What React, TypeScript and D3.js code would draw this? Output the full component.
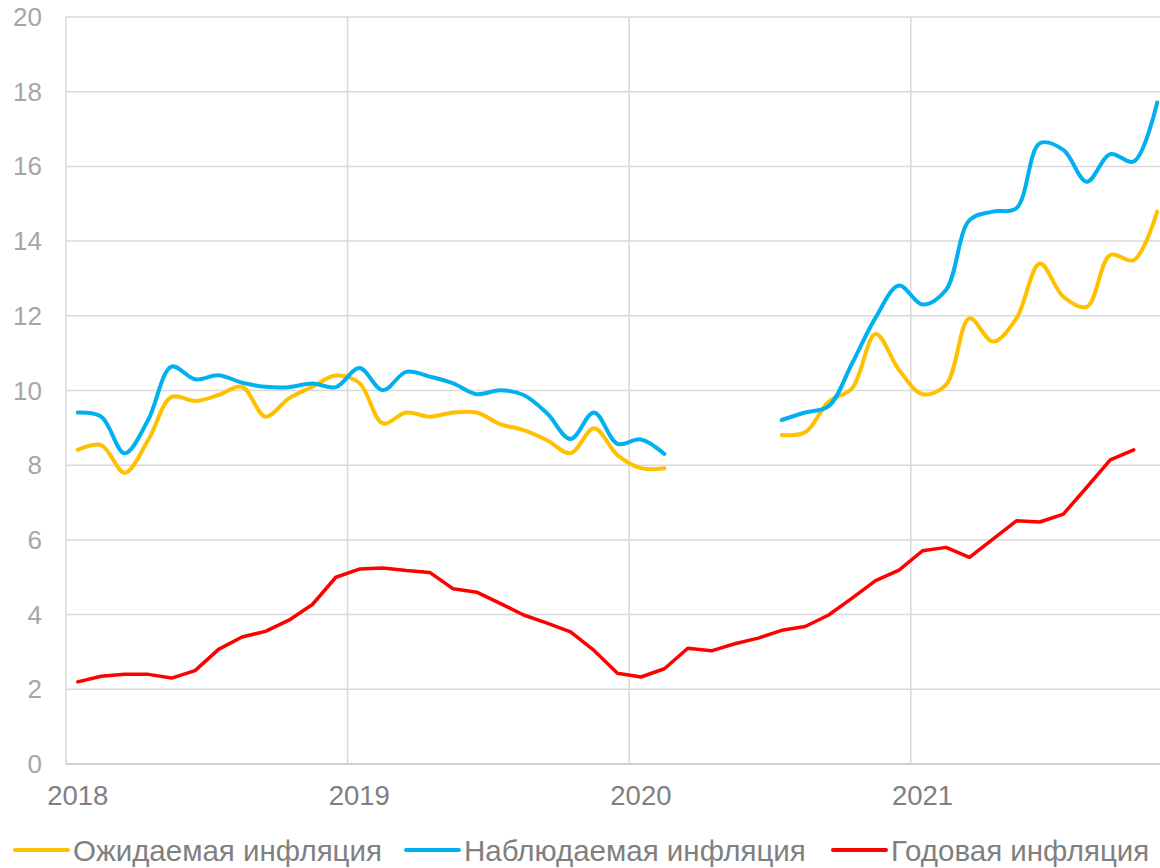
import * as d3 from "d3";

// monthly series, Jan 2018 .. Nov 2021
const months: Date[] = d3.timeMonths(new Date(2018, 0, 1), new Date(2021, 11, 1));

const expected: (number | null)[] = [
  8.41, 8.54, 7.8, 8.67, 9.83, 9.72, 9.88, 10.1, 9.3, 9.79, 10.1, 10.4,
  10.2, 9.12, 9.41, 9.3, 9.41, 9.41, 9.1, 8.94, 8.67, 8.32, 8.99, 8.27,
  7.92, 7.92, null, null, null, null, 8.81, 8.88, 9.7, 10.06, 11.51, 10.55,
  9.9, 10.15, 11.93, 11.31, 11.93, 13.4, 12.51, 12.24, 13.63, 13.49, 14.79,
];

const observed: (number | null)[] = [
  9.41, 9.3, 8.32, 9.21, 10.64, 10.3, 10.41, 10.21, 10.1, 10.09, 10.19, 10.09,
  10.6, 10.01, 10.5, 10.37, 10.19, 9.9, 10.01, 9.88, 9.39, 8.7, 9.41, 8.57,
  8.69, 8.3, null, null, null, null, 9.21, 9.41, 9.58, 10.73, 11.95, 12.81,
  12.3, 12.69, 14.56, 14.79, 14.88, 16.62, 16.44, 15.59, 16.33, 16.13, 17.71,
];

const annual: (number | null)[] = [
  2.2, 2.35, 2.4, 2.4, 2.3, 2.5, 3.07, 3.4, 3.55, 3.85, 4.27, 5.0,
  5.22, 5.25, 5.18, 5.13, 4.69, 4.6, 4.3, 3.99, 3.77, 3.54, 3.04, 2.43,
  2.33, 2.55, 3.1, 3.03, 3.22, 3.37, 3.58, 3.68, 3.99, 4.44, 4.91, 5.19,
  5.71, 5.8, 5.53, 6.02, 6.51, 6.48, 6.69, 7.41, 8.14, 8.41, null,
];

const yTicks = [0, 2, 4, 6, 8, 10, 12, 14, 16, 18, 20];
const yearTicks = [2018, 2019, 2020, 2021];

const seriesNames = ["Ожидаемая инфляция", "Наблюдаемая инфляция", "Годовая инфляция"];
const seriesColors = ["#FFC000", "#00B0F0", "#FF0000"];

const W = 1160;
const H = 868;
const left = 66;
const monthW = 281.6 / 12;
const top = 17;
const bottom = 764;
const font = "'Liberation Sans', Arial, sans-serif";

export default function App() {
  const x = d3
    .scaleBand<number>()
    .domain(months.map((_, i) => i))
    .range([left, left + months.length * monthW])
    .paddingInner(0)
    .paddingOuter(0);
  const y = d3.scaleLinear().domain([0, 20]).range([bottom, top]);
  const cx = (i: number) => (x(i) as number) + x.bandwidth() / 2;
  const yearX = (yr: number) => x(months.findIndex((m) => m.getFullYear() === yr)) as number;

  const smooth = d3
    .line<number | null>()
    .defined((d) => d != null)
    .x((_, i) => cx(i))
    .y((d) => y(d as number))
    .curve(d3.curveCatmullRom.alpha(0.5));
  const straight = d3
    .line<number | null>()
    .defined((d) => d != null)
    .x((_, i) => cx(i))
    .y((d) => y(d as number));

  const legendX = [15, 406, 833];

  return (
    <svg
      width={W}
      height={H}
      style={{ position: "absolute", left: 0, top: 0, background: "#fff" }}
      fontFamily={font}
    >
      {/* horizontal grid */}
      {yTicks.map((t) => (
        <line
          key={"h" + t}
          x1={left}
          x2={W}
          y1={y(t)}
          y2={y(t)}
          stroke={t === 0 ? "#bfbfbf" : "#d9d9d9"}
          strokeWidth={1.5}
        />
      ))}
      {/* vertical grid at years */}
      {yearTicks.map((yr) => (
        <line
          key={"v" + yr}
          x1={yearX(yr)}
          x2={yearX(yr)}
          y1={top}
          y2={bottom}
          stroke="#d9d9d9"
          strokeWidth={1.5}
        />
      ))}
      {/* y labels */}
      {yTicks.map((t) => (
        <text
          key={"yl" + t}
          x={42}
          y={y(t)}
          textAnchor="end"
          dominantBaseline="central"
          fontSize={26}
          fill="#a6a6a6"
        >
          {t}
        </text>
      ))}
      {/* x labels */}
      {yearTicks.map((yr) => (
        <text
          key={"xl" + yr}
          x={yearX(yr) + x.bandwidth() / 2}
          y={805}
          textAnchor="middle"
          fontSize={27.5}
          fill="#808080"
        >
          {yr}
        </text>
      ))}
      {/* series */}
      <path d={smooth(expected) ?? ""} fill="none" stroke={seriesColors[0]} strokeWidth={4} strokeLinecap="round" />
      <path d={smooth(observed) ?? ""} fill="none" stroke={seriesColors[1]} strokeWidth={4} strokeLinecap="round" />
      <path
        d={straight(annual) ?? ""}
        fill="none"
        stroke={seriesColors[2]}
        strokeWidth={3.5}
        strokeLinecap="round"
        strokeLinejoin="round"
      />
      {/* legend */}
      {seriesNames.map((name, i) => (
        <g key={name} transform={`translate(${legendX[i]},850)`}>
          <line x1={0} x2={53} y1={0} y2={0} stroke={seriesColors[i]} strokeWidth={4} strokeLinecap="round" />
          <text x={58} y={11} fontSize={29.5} fill="#808080">
            {name}
          </text>
        </g>
      ))}
    </svg>
  );
}
